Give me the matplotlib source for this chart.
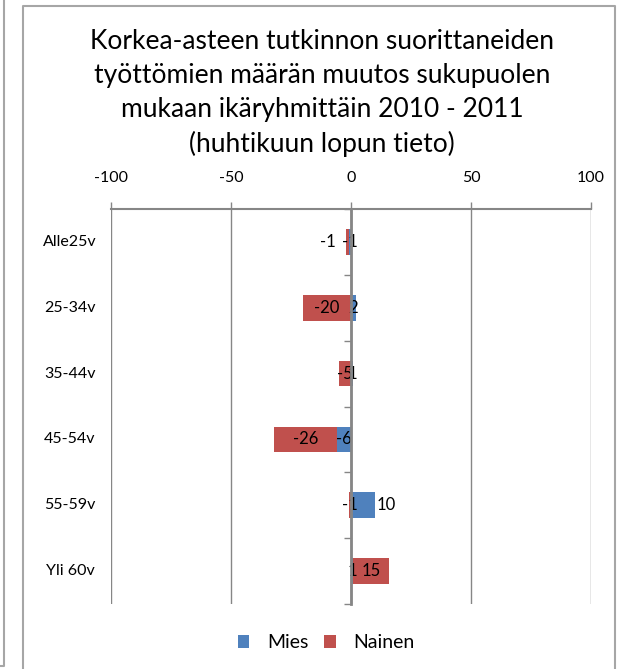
import numpy as np
import matplotlib
matplotlib.use("Agg")
import matplotlib.pyplot as plt
from matplotlib.lines import Line2D
from matplotlib.patches import Patch
from matplotlib.transforms import blended_transform_factory

# data
categories = ["Alle25v", "25-34v", "35-44v", "45-54v", "55-59v", "Yli 60v"]
mies = [-1, 2, 1, -6, 10, 1]
nainen = [-1, -20, -5, -26, -1, 15]
series_names = ["Mies", "Nainen"]
x_ticks = [-100, -50, 0, 50, 100]

title = ("Korkea-asteen tutkinnon suorittaneiden\n"
         "työttömien määrän muutos sukupuolen\n"
         "mukaan ikäryhmittäin 2010 - 2011\n"
         "(huhtikuun lopun tieto)")

# a couple of labels were moved off-centre in the original (value units)
label_nudge = {("Nainen", 0): -8.0, ("Mies", 4): 9.6}

blue = "#4F81BD"
red = "#C0504D"
grey = "#868686"
frame = "#A6A6A6"

plt.rcParams['font.family'] = ['Lato', 'DejaVu Sans']

fig = plt.figure(figsize=(6.19, 6.69), dpi=100)
ax = fig.add_axes([111 / 619, 1 - 604 / 669, 480 / 619, 395 / 669])

y = np.arange(len(categories))
pos_base = np.zeros(len(categories))
neg_base = np.zeros(len(categories))
for name, vals, col in [("Mies", mies, blue), ("Nainen", nainen, red)]:
    vals = np.array(vals, dtype=float)
    left = np.where(vals >= 0, pos_base, neg_base)
    ax.barh(y, vals, left=left, height=0.39, color=col, zorder=3)
    for i, v in enumerate(vals):
        cx = left[i] + v / 2 + label_nudge.get((name, i), 0)
        ax.text(cx, y[i], f"{int(v)}", ha="center", va="center",
                fontsize=12, color="black", zorder=4)
    pos_base += np.where(vals >= 0, vals, 0)
    neg_base += np.where(vals < 0, vals, 0)

ax.set_xlim(-100, 100)
ax.set_ylim(len(categories) - 0.5, -0.5)
ax.xaxis.tick_top()
ax.set_xticks(x_ticks)
ax.set_xticklabels([str(t) for t in x_ticks], fontsize=11.5)
ax.tick_params(axis="x", length=5, width=1.0, color=grey, pad=12)
ax.grid(axis="x", color=grey, linewidth=1.0, zorder=0)

for s in ["bottom", "right"]:
    ax.spines[s].set_visible(False)
ax.spines["top"].set_color(grey)
ax.spines["top"].set_linewidth(1.5)
ax.spines["left"].set_position(("data", 0))
ax.spines["left"].set_color(grey)
ax.spines["left"].set_linewidth(2.0)
ax.spines["left"].set_zorder(5)

ax.set_yticks(y)
ax.set_yticklabels([])
ax.set_yticks(np.arange(-0.5, len(categories), 1.0), minor=True)
ax.tick_params(axis="y", which="major", length=0)
ax.tick_params(axis="y", which="minor", length=5, width=1.0, color=grey)

trans = blended_transform_factory(fig.transFigure, ax.transData)
for i, c in enumerate(categories):
    ax.text(70 / 619, y[i], c, transform=trans, ha="center", va="center",
            fontsize=11.5)

fig.text(322 / 619, 1 - 93 / 669, title, ha="center", va="center",
         fontsize=19, linespacing=1.45)

handles = [Patch(facecolor=blue), Patch(facecolor=red)]
fig.legend(handles, series_names, loc="center", ncol=2,
           bbox_to_anchor=(326 / 619, 1 - 643 / 669), frameon=False,
           fontsize=14, handlelength=0.6, handleheight=0.6,
           columnspacing=0.8, handletextpad=0.9)

# chart area frames
fig.add_artist(Line2D([23 / 619, 23 / 619, 615 / 619, 615 / 619],
                      [0, 1 - 6 / 669, 1 - 6 / 669, 0],
                      transform=fig.transFigure, color=frame, lw=1.5))
fig.add_artist(Line2D([0, 3.5 / 619, 3.5 / 619],
                      [1 - 666 / 669, 1 - 666 / 669, 1],
                      transform=fig.transFigure, color=frame, lw=1.5))

fig.savefig("out.png", dpi=100)
